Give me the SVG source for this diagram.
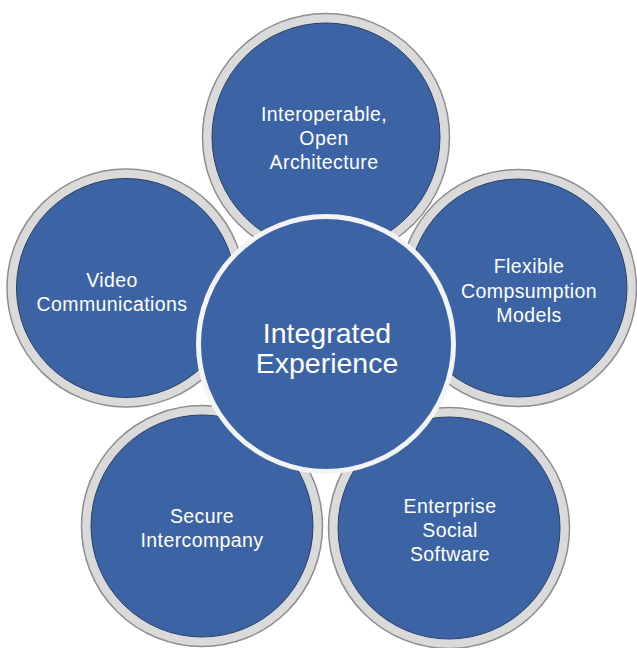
<svg xmlns="http://www.w3.org/2000/svg" width="637" height="648" viewBox="0 0 637 648">
<style>
.band{fill:#dadada;stroke:#8e8e8e;stroke-width:1.5}
.core{fill:#3c64a5;stroke:#2b3f63;stroke-width:1}
.hub{fill:#3c64a5;stroke:#f4f4f4;stroke-width:5}
.lbl{font-family:"Liberation Sans",Arial,sans-serif;font-size:19.5px;fill:#ffffff;text-anchor:middle;letter-spacing:0.4px}
.big{font-family:"Liberation Sans",Arial,sans-serif;font-size:28.5px;fill:#ffffff;text-anchor:middle}
</style>
<rect width="637" height="648" fill="#ffffff"/>
<g id="node-interoperable">
<circle class="band" cx="326" cy="137" r="123.5"/>
<circle class="core" cx="326" cy="137" r="114"/>
<text class="lbl"><tspan x="324" y="121">Interoperable,</tspan><tspan x="324" y="145">Open</tspan><tspan x="324" y="169">Architecture</tspan></text>
</g>
<g id="node-video">
<circle class="band" cx="126" cy="288" r="119"/>
<circle class="core" cx="126" cy="288" r="109.5"/>
<text class="lbl"><tspan x="112" y="287">Video</tspan><tspan x="112" y="311">Communications</tspan></text>
</g>
<g id="node-flexible">
<circle class="band" cx="518" cy="288" r="118.5"/>
<circle class="core" cx="518" cy="288" r="109"/>
<text class="lbl"><tspan x="529" y="273">Flexible</tspan><tspan x="529" y="298">Compsumption</tspan><tspan x="529" y="322">Models</tspan></text>
</g>
<g id="node-secure">
<circle class="band" cx="202" cy="526" r="120.5"/>
<circle class="core" cx="202" cy="526" r="111"/>
<text class="lbl"><tspan x="202" y="523">Secure</tspan><tspan x="202" y="547">Intercompany</tspan></text>
</g>
<g id="node-enterprise">
<circle class="band" cx="449" cy="528" r="120.5"/>
<circle class="core" cx="449" cy="528" r="111"/>
<text class="lbl"><tspan x="450" y="513">Enterprise</tspan><tspan x="450" y="537">Social</tspan><tspan x="450" y="561">Software</tspan></text>
</g>
<g id="node-integrated">
<circle class="hub" cx="326" cy="344" r="127.5"/>
<text class="big"><tspan x="327" y="343">Integrated</tspan><tspan x="327" y="373">Experience</tspan></text>
</g>
</svg>
